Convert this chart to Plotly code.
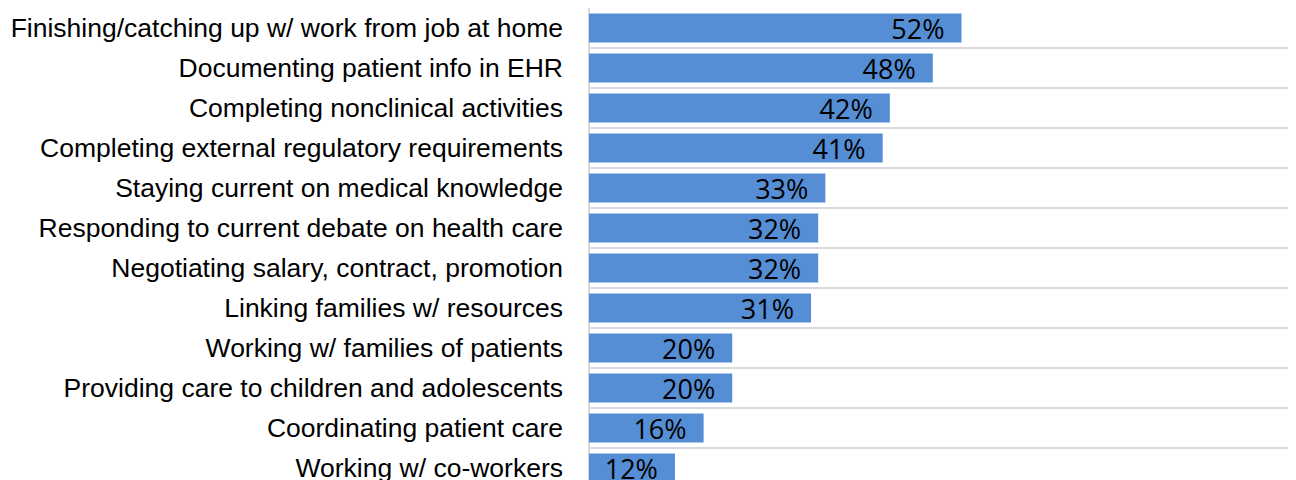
import plotly.graph_objects as go

categories = [
    "Finishing/catching up w/ work from job at home",
    "Documenting patient info in EHR",
    "Completing nonclinical activities",
    "Completing external regulatory requirements",
    "Staying current on medical knowledge",
    "Responding to current debate on health care",
    "Negotiating salary, contract, promotion",
    "Linking families w/ resources",
    "Working w/ families of patients",
    "Providing care to children and adolescents",
    "Coordinating patient care",
    "Working w/ co-workers",
]
values = [52, 48, 42, 41, 33, 32, 32, 31, 20, 20, 16, 12]
value_labels = [f"{v}%" for v in values]

fig = go.Figure(
    go.Bar(
        x=values,
        y=categories,
        orientation="h",
        marker=dict(color="#558ED5", line=dict(width=0)),
        text=value_labels,
        texttemplate="%{text}\u00a0\u00a0",
        textposition="inside",
        insidetextanchor="end",
        constraintext="none",
        textangle=0,
        textfont=dict(family="Open Sans", size=27, color="#000000"),
        cliponaxis=True,
    )
)

fig.update_layout(
    width=1288,
    height=472,
    margin=dict(l=581, r=0, t=0, b=0, autoexpand=False),
    plot_bgcolor="white",
    paper_bgcolor="white",
    bargap=0.27,
    showlegend=False,
)
fig.update_xaxes(
    range=[0, 98.7],
    automargin=False,
    showgrid=False,
    showticklabels=False,
    zeroline=True,
    zerolinecolor="#d9d9d9",
    zerolinewidth=2,
    showline=False,
)
fig.update_yaxes(
    categoryorder="array",
    categoryarray=categories,
    range=[11.3, -0.5],
    automargin=False,
    tickson="boundaries",
    showgrid=True,
    gridcolor="#d9d9d9",
    gridwidth=2,
    ticks="",
    ticklabelstandoff=25,
    tickfont=dict(family="Liberation Sans", size=26.5, color="#000000"),
    showline=False,
)

fig.write_html("out.html")
